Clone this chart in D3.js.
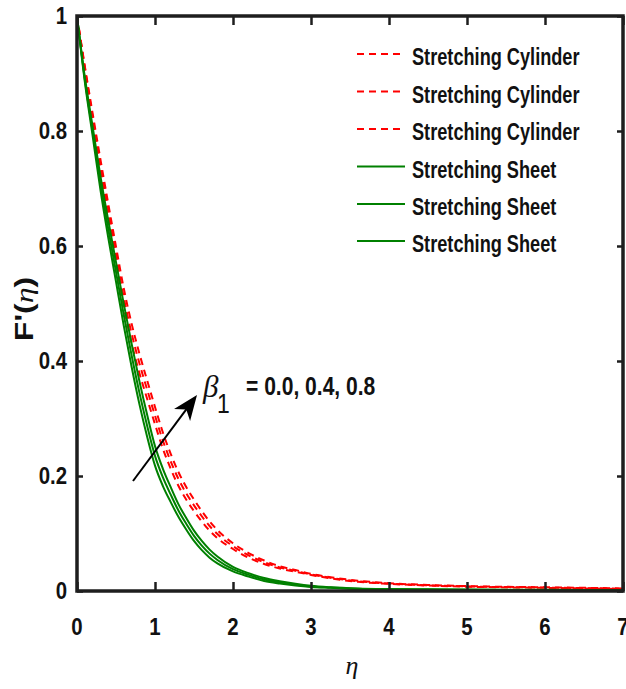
<!DOCTYPE html>
<html>
<head>
<meta charset="utf-8">
<script src="https://cdn.jsdelivr.net/npm/d3@7"></script>
<style>
  html, body { margin: 0; padding: 0; background: #ffffff; }
  svg { display: block; }
  .sans { font-family: "Liberation Sans Narrow", "Arial Narrow", "Liberation Sans", Arial, sans-serif; font-weight: bold; fill: #111; }
  .sans-plain { font-family: "Liberation Sans", Arial, sans-serif; font-weight: normal; fill: #111; }
  .greek { font-family: "Liberation Serif", "Times New Roman", serif; font-style: italic; font-weight: normal; fill: #111; }
</style>
</head>
<body>
<svg id="chart" width="626" height="689"></svg>
<script>
// Similarity variable grid
const eta = [0, 0.1, 0.2, 0.3, 0.4, 0.5, 0.6, 0.7, 0.8, 0.9, 1.0, 1.1, 1.2, 1.3, 1.4, 1.5, 1.6, 1.7, 1.8,
             2.0, 2.2, 2.4, 2.6, 2.8, 3.0, 3.25, 3.6, 4.0, 4.5, 5.0, 6.0, 7.0];

// Stretching cylinder, beta1 = 0.0, 0.4, 0.8
const cylinder00 = [1.0, 0.907, 0.819, 0.733, 0.65, 0.571, 0.494, 0.431, 0.379, 0.334, 0.29, 0.248, 0.213, 0.183, 0.159, 0.139, 0.121, 0.105, 0.092,
                    0.073, 0.058, 0.047, 0.039, 0.0335, 0.028, 0.022, 0.016, 0.0125, 0.0095, 0.0075, 0.0055, 0.0035];
const cylinder04 = [1.0, 0.91, 0.825, 0.742, 0.662, 0.585, 0.51, 0.448, 0.396, 0.35, 0.305, 0.262, 0.226, 0.195, 0.17, 0.149, 0.13, 0.113, 0.099,
                    0.078, 0.062, 0.05, 0.041, 0.035, 0.029, 0.023, 0.017, 0.013, 0.01, 0.008, 0.006, 0.004];
const cylinder08 = [1.0, 0.913, 0.831, 0.751, 0.674, 0.599, 0.526, 0.465, 0.413, 0.366, 0.32, 0.276, 0.239, 0.207, 0.181, 0.159, 0.139, 0.121, 0.106,
                    0.083, 0.066, 0.053, 0.043, 0.0365, 0.03, 0.024, 0.018, 0.0135, 0.0105, 0.0085, 0.0065, 0.0045];

// Stretching sheet, beta1 = 0.0, 0.4, 0.8
const sheet00 = [1.0, 0.886, 0.792, 0.698, 0.615, 0.538, 0.461, 0.39, 0.325, 0.268, 0.218, 0.183, 0.155, 0.129, 0.107, 0.087, 0.071, 0.058, 0.048,
                 0.034, 0.025, 0.0175, 0.013, 0.0095, 0.007, 0.0055, 0.0035, 0.0025, 0.002, 0.0015, 0.001, 0.0007];
const sheet04 = [1.0, 0.89, 0.80, 0.71, 0.63, 0.555, 0.48, 0.41, 0.345, 0.287, 0.235, 0.198, 0.168, 0.14, 0.117, 0.096, 0.079, 0.065, 0.054,
                 0.038, 0.028, 0.02, 0.015, 0.011, 0.008, 0.006, 0.004, 0.003, 0.0025, 0.002, 0.0015, 0.001];
const sheet08 = [1.0, 0.894, 0.808, 0.722, 0.645, 0.572, 0.499, 0.43, 0.365, 0.306, 0.252, 0.213, 0.181, 0.151, 0.127, 0.105, 0.087, 0.072, 0.06,
                 0.042, 0.031, 0.0225, 0.017, 0.0125, 0.009, 0.0065, 0.0045, 0.0035, 0.003, 0.0025, 0.002, 0.0013];

const xTicks = [0, 1, 2, 3, 4, 5, 6, 7];
const yTicks = [0, 0.2, 0.4, 0.6, 0.8, 1];
const yTickLabels = ["0", "0.2", "0.4", "0.6", "0.8", "1"];

const legendNames = ["Stretching Cylinder", "Stretching Cylinder", "Stretching Cylinder",
                     "Stretching Sheet", "Stretching Sheet", "Stretching Sheet"];
const betaValues = "= 0.0, 0.4, 0.8";

const series = [
  { values: cylinder00, color: "#ff0000", dash: "7,5" },
  { values: cylinder04, color: "#ff0000", dash: "7,5" },
  { values: cylinder08, color: "#ff0000", dash: "7,5" },
  { values: sheet00, color: "#008000", dash: null },
  { values: sheet04, color: "#008000", dash: null },
  { values: sheet08, color: "#008000", dash: null }
];

const svg = d3.select("#chart");
const plotLeft = 77, plotRight = 623, plotTop = 16, plotBottom = 591;

const x = d3.scaleLinear().domain([0, 7]).range([plotLeft, plotRight]);
const y = d3.scaleLinear().domain([0, 1]).range([plotBottom, plotTop]);

// Condensed text: horizontal squeeze applied around the anchor point
function narrowText(parent, px, py, str, size, sx, anchor, cls) {
  const g = parent.append("g").attr("transform", `translate(${px},${py}) scale(${sx},1)`);
  return g.append("text")
    .attr("class", cls || "sans")
    .attr("text-anchor", anchor || "start")
    .attr("font-size", size)
    .text(str);
}

const plot = svg.append("g");
plot.append("clipPath").attr("id", "clip")
  .append("rect").attr("x", plotLeft).attr("y", plotTop - 2)
  .attr("width", plotRight - plotLeft).attr("height", plotBottom - plotTop + 2);

const line = d3.line()
  .x((d, i) => x(eta[i]))
  .y(d => y(d))
  .curve(d3.curveMonotoneX);

const curves = plot.append("g").attr("clip-path", "url(#clip)");
series.forEach(s => {
  curves.append("path")
    .attr("d", line(s.values))
    .attr("fill", "none")
    .attr("stroke", s.color)
    .attr("stroke-width", 2)
    .attr("stroke-dasharray", s.dash);
});

// Axes: ticks inward on all four sides
const frameColor = "#1e1e1e";
const xAxisB = d3.axisBottom(x).tickValues(xTicks).tickSize(-9).tickFormat("");
const xAxisT = d3.axisTop(x).tickValues(xTicks).tickSize(-9).tickFormat("");
const yAxisL = d3.axisLeft(y).tickValues(yTicks).tickSize(-6).tickFormat("");
const yAxisR = d3.axisRight(y).tickValues(yTicks).tickSize(-6).tickFormat("");

function styleAxis(g) {
  g.select(".domain").remove();
  g.selectAll(".tick line").attr("stroke", frameColor).attr("stroke-width", 2.5);
}
svg.append("g").attr("transform", `translate(0,${plotBottom})`).call(xAxisB).call(styleAxis);
svg.append("g").attr("transform", `translate(0,${plotTop})`).call(xAxisT).call(styleAxis);
svg.append("g").attr("transform", `translate(${plotLeft},0)`).call(yAxisL).call(styleAxis);
svg.append("g").attr("transform", `translate(${plotRight},0)`).call(yAxisR).call(styleAxis);

svg.append("rect")
  .attr("x", plotLeft).attr("y", plotTop)
  .attr("width", plotRight - plotLeft).attr("height", plotBottom - plotTop)
  .attr("fill", "none").attr("stroke", frameColor).attr("stroke-width", 3.5);

// Tick labels
const xLabels = svg.append("g");
xTicks.forEach(d => narrowText(xLabels, x(d), plotBottom + 44, String(d), 24, 0.85, "middle"));

const yLabels = svg.append("g");
yTicks.forEach((d, i) => narrowText(yLabels, plotLeft - 10, y(d) + 8, yTickLabels[i], 24, 0.85, "end"));

// Axis titles
svg.append("text")
  .attr("class", "greek")
  .attr("x", 352).attr("y", 674)
  .attr("text-anchor", "middle")
  .attr("font-size", 26)
  .text("η");

const yTitle = svg.append("g")
  .attr("transform", "translate(33,309) rotate(-90) scale(1,0.78)")
  .append("text")
  .attr("class", "sans")
  .attr("text-anchor", "middle")
  .attr("font-size", 32);
yTitle.append("tspan").text("F'(");
yTitle.append("tspan").attr("class", "greek").text("η");
yTitle.append("tspan").text(")");

// Legend
const legend = svg.append("g");
const legendRows = [54, 91.5, 129, 166.5, 204, 241];
legendNames.forEach((name, i) => {
  legend.append("line")
    .attr("x1", 357).attr("x2", 405)
    .attr("y1", legendRows[i]).attr("y2", legendRows[i])
    .attr("stroke", series[i].color)
    .attr("stroke-width", 2)
    .attr("stroke-dasharray", series[i].dash);
  narrowText(legend, 412, legendRows[i] + 11, name, 23, 0.79, "start");
});

// Annotation: direction of increasing beta1
const arrowStart = [133, 481], arrowEnd = [197, 395];
const ang = Math.atan2(arrowEnd[1] - arrowStart[1], arrowEnd[0] - arrowStart[0]);
const headLen = 25, headHalf = 10;
const baseX = arrowEnd[0] - headLen * Math.cos(ang), baseY = arrowEnd[1] - headLen * Math.sin(ang);
svg.append("line")
  .attr("x1", arrowStart[0]).attr("y1", arrowStart[1])
  .attr("x2", arrowEnd[0] - (headLen - 8) * Math.cos(ang)).attr("y2", arrowEnd[1] - (headLen - 8) * Math.sin(ang))
  .attr("stroke", "#000").attr("stroke-width", 2);
svg.append("path")
  .attr("d", d3.line()([
    arrowEnd,
    [baseX + headHalf * Math.sin(ang), baseY - headHalf * Math.cos(ang)],
    [arrowEnd[0] - (headLen - 7) * Math.cos(ang), arrowEnd[1] - (headLen - 7) * Math.sin(ang)],
    [baseX - headHalf * Math.sin(ang), baseY + headHalf * Math.cos(ang)]
  ]) + "Z")
  .attr("fill", "#000");

const annot = svg.append("g");
annot.append("text").attr("class", "greek")
  .attr("x", 203).attr("y", 397).attr("font-size", 31).text("β");
narrowText(annot, 217, 413, "1", 27, 0.85, "start", "sans-plain");
narrowText(annot, 246, 395, betaValues, 26, 0.81, "start");
</script>
</body>
</html>
